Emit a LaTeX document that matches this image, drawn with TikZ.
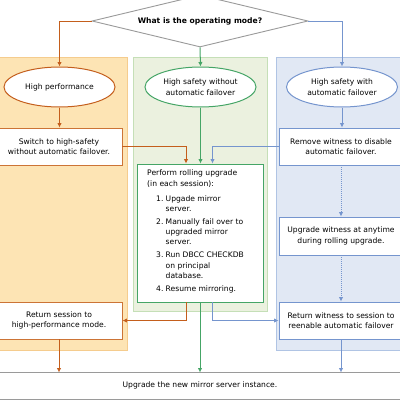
\documentclass[tikz,border=0pt]{standalone}
\usepackage{fontspec}
\setmainfont{DejaVu Sans}
\usetikzlibrary{arrows.meta,shapes.geometric}
\definecolor{orln}{HTML}{C45E1C}
\definecolor{orfill}{HTML}{FDE4B4}
\definecolor{ordraw}{HTML}{F5CC8E}
\definecolor{orbox}{HTML}{CC7436}
\definecolor{grln}{HTML}{45A566}
\definecolor{grfill}{HTML}{EBF1DF}
\definecolor{grdraw}{HTML}{C5DFB7}
\definecolor{blln}{HTML}{7595CE}
\definecolor{blfill}{HTML}{E1E8F4}
\definecolor{bldraw}{HTML}{B0C4E4}
\definecolor{gryln}{HTML}{9A9A9A}
\begin{document}
\begin{tikzpicture}[x=1pt,y=-1pt,
  font=\fontsize{7.6}{10.4}\selectfont,
  tip/.style={-{Latex[length=4.5pt,width=4.5pt]}, line width=1pt},
  oval/.style={ellipse, fill=white, minimum width=111pt, minimum height=40pt, inner sep=0pt, align=center, line width=1pt},
  actbox/.style={rectangle, fill=white, inner sep=0pt, align=center, line width=0.9pt},
  panel/.style={line width=0.9pt}]
\useasboundingbox (0,0) rectangle (400,400);
\clip (0,0) rectangle (400,400);
% panels
\fill[orfill, draw=ordraw, panel] (-2,57) rectangle (127,350);
\fill[grfill, draw=grdraw, panel] (133,57) rectangle (267,311);
\fill[blfill, draw=bldraw, panel] (276,57) rectangle (403,350);
% decision
\node[diamond, draw=gryln, fill=white, line width=0.9pt, inner sep=0pt, shape aspect=4.15,
      minimum width=216pt, minimum height=52pt, font=\fontsize{7.6}{10}\selectfont\bfseries] (q) at (200,21) {What is the operating mode?};
% modes
\node[oval, draw=orln] (e1) at (59.5,87) {High performance};
\node[oval, draw=grln] (e2) at (200.5,87) {High safety without\\automatic failover};
\node[oval, draw=blln] (e3) at (342,87) {High safety with\\automatic failover};
% boxes
\node[actbox, draw=orbox, minimum width=126pt, minimum height=37pt] (b1) at (59,146.5) {Switch to high-safety\\without automatic failover.};
\node[actbox, draw=blln, minimum width=124pt, minimum height=37pt] (b2) at (341,146.5) {Remove witness to disable\\automatic failover.};
\node[actbox, draw=blln, minimum width=124pt, minimum height=38pt] (b4) at (341,236) {Upgrade witness at anytime\\during rolling upgrade.};
\node[actbox, draw=orbox, minimum width=126pt, minimum height=37pt] (b3) at (59,320.5) {Return session to\\high-performance mode.};
\node[actbox, draw=blln, minimum width=124pt, minimum height=37pt] (b5) at (341,320.5) {Return witness to session to\\reenable automatic failover};
\node[actbox, draw=grln, minimum width=126pt, minimum height=138pt] (roll) at (200,233) {};
\node[anchor=north west, inner sep=0pt, align=left, font=\fontsize{7.6}{10.3}\selectfont] (rolltxt) at (147,170)
  {Perform rolling upgrade\\(in each session):\\[4.5pt]
   \hspace*{9pt}\makebox[9.5pt][l]{1.}Upgade mirror\\
   \hspace*{18.5pt}server.\\[2.6pt]
   \hspace*{9pt}\makebox[9.5pt][l]{2.}Manually fail over to\\
   \hspace*{18.5pt}upgraded mirror\\
   \hspace*{18.5pt}server.\\[2.6pt]
   \hspace*{9pt}\makebox[9.5pt][l]{3.}Run DBCC CHECKDB\\
   \hspace*{18.5pt}on principal\\
   \hspace*{18.5pt}database.\\[2.6pt]
   \hspace*{9pt}\makebox[9.5pt][l]{4.}Resume mirroring.};
% bottom band
\node[fill=white, minimum width=404pt, minimum height=26.3pt, inner sep=0pt] (band) at (200,385.85) {Upgrade the new mirror server instance.};
\draw[gryln, line width=0.9pt] (band.north west) -- (band.north east);
\draw[gryln, line width=0.9pt] (band.south west) -- (band.south east);
% connectors
\draw[orln, tip] (q.west) -| (e1.north);
\draw[grln, tip] (q.south) -- (e2.north);
\draw[blln, tip] (q.east) -| (e3.north);
\draw[orln, tip] (e1.south) -- (e1.south |- b1.north);
\draw[blln, tip] (e3.south) -- (e3.south |- b2.north);
\draw[grln, tip] (e2.south) -- (e2.south |- roll.north);
\draw[orln, tip] (b1.east) -| ([xshift=-14pt]roll.north);
\draw[blln, tip] (b2.west) -| ([xshift=12.5pt]roll.north);
\draw[blln, tip, densely dotted] (b2.south) -- (b4.north);
\draw[blln, tip, densely dotted] (b4.south) -- (b5.north);
\draw[orln, tip] ([xshift=-14pt]roll.south) |- (b3.east);
\draw[blln, tip] ([xshift=12.5pt]roll.south) |- (b5.west);
\draw[orln, tip] (b3.south) -- (b3.south |- band.north);
\draw[grln, tip] (roll.south) -- (roll.south |- band.north);
\draw[blln, tip] (b5.south) -- (b5.south |- band.north);
\end{tikzpicture}
\end{document}
